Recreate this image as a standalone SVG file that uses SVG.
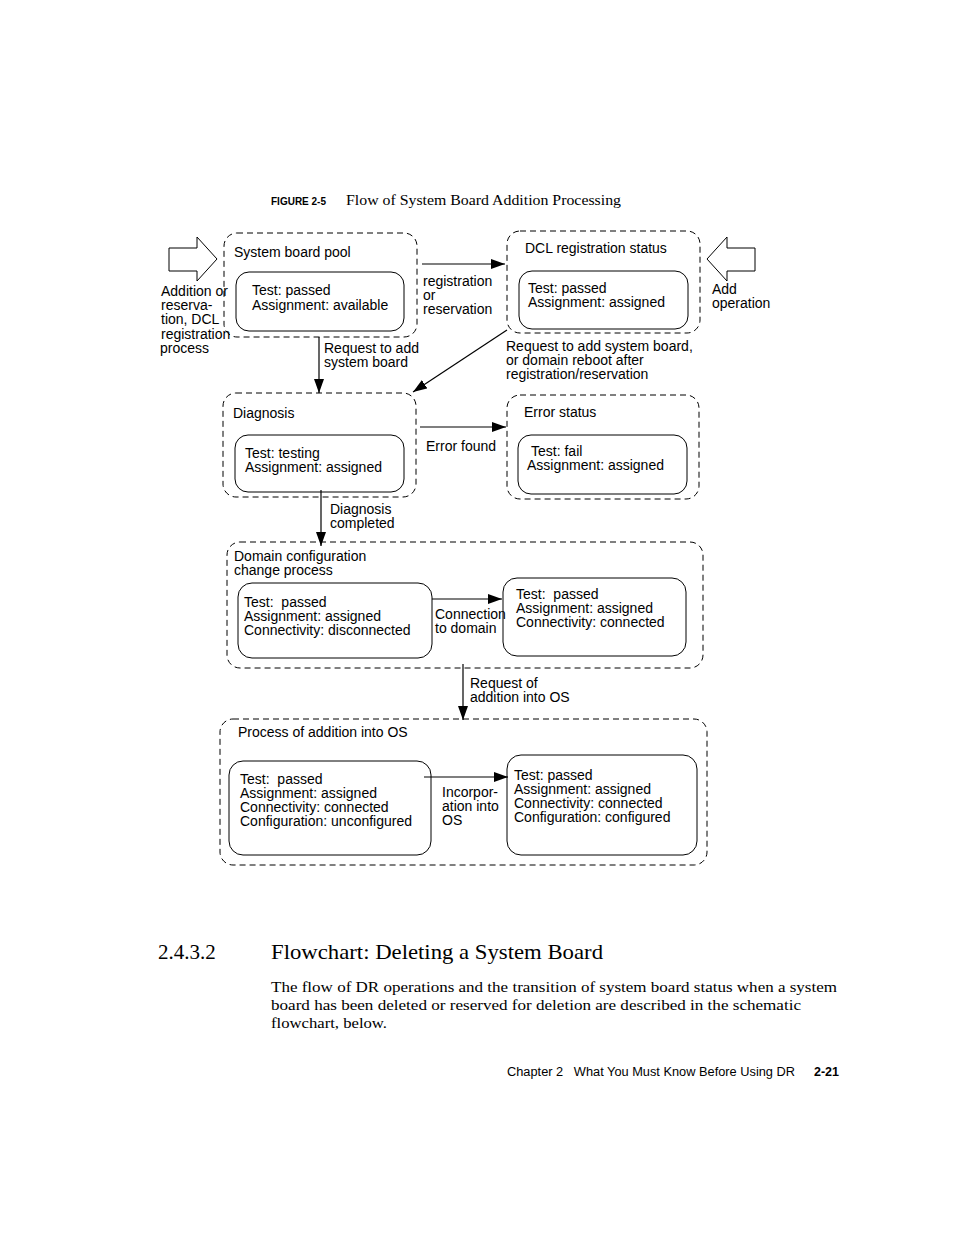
<svg xmlns="http://www.w3.org/2000/svg" width="954" height="1235" viewBox="0 0 954 1235">
<style>
.t{font-family:"Liberation Sans",Arial,sans-serif;font-size:14px;fill:#000}
.s{font-family:"Liberation Serif","Times New Roman",serif;fill:#000}
.outer{fill:none;stroke:#000;stroke-width:1;stroke-dasharray:6 4}
.inner{fill:#fff;stroke:#000;stroke-width:1}
.c{fill:none;stroke:#000;stroke-width:1.2}
.hollow{fill:#fff;stroke:#000;stroke-width:1}
</style>
<defs>
<marker id="ah" viewBox="0 0 14 10" refX="14" refY="5" markerWidth="14" markerHeight="10" markerUnits="userSpaceOnUse" orient="auto">
<path d="M0,0 L14,5 L0,10 Z" fill="#000"/>
</marker>
</defs>
<rect width="954" height="1235" fill="#fff"/>

<text x="271" y="205" font-family="Liberation Sans,Arial,sans-serif" font-size="10" font-weight="bold">FIGURE 2-5</text>
<text class="s" x="346" y="205" font-size="14" textLength="275" lengthAdjust="spacingAndGlyphs">Flow of System Board Addition Processing</text>

<g id="pool">
<rect class="outer" x="224" y="233" width="193" height="104" rx="13"/>
<text class="t" x="234" y="257">System board pool</text>
<rect class="inner" x="236" y="272" width="168" height="59" rx="13"/>
<text class="t" x="252" y="295">Test: passed</text>
<text class="t" x="252" y="310">Assignment: available</text>
</g>

<g id="dcl">
<rect class="outer" x="507" y="231" width="193" height="102" rx="13"/>
<text class="t" x="525" y="253">DCL registration status</text>
<rect class="inner" x="519" y="271" width="169" height="58" rx="13"/>
<text class="t" x="528" y="293">Test: passed</text>
<text class="t" x="528" y="307">Assignment: assigned</text>
</g>

<g id="diagnosis">
<rect class="outer" x="223" y="393" width="193" height="104" rx="13"/>
<text class="t" x="233" y="418">Diagnosis</text>
<rect class="inner" x="235" y="435" width="169" height="57" rx="13"/>
<text class="t" x="245" y="458">Test: testing</text>
<text class="t" x="245" y="472">Assignment: assigned</text>
</g>

<g id="error">
<rect class="outer" x="507" y="395" width="192" height="104" rx="13"/>
<text class="t" x="524" y="417">Error status</text>
<rect class="inner" x="518" y="435" width="169" height="59" rx="13"/>
<text class="t" x="531" y="456">Test: fail</text>
<text class="t" x="527" y="470">Assignment: assigned</text>
</g>

<g id="domain">
<rect class="outer" x="227" y="542" width="476" height="126" rx="13"/>
<text class="t" x="234" y="561">Domain configuration</text>
<text class="t" x="234" y="575">change process</text>
<rect class="inner" x="238" y="583" width="194" height="75" rx="14"/>
<text class="t" x="244" y="607" xml:space="preserve">Test:  passed</text>
<text class="t" x="244" y="621">Assignment: assigned</text>
<text class="t" x="244" y="635">Connectivity: disconnected</text>
<rect class="inner" x="503" y="578" width="183" height="78" rx="14"/>
<text class="t" x="516" y="599" xml:space="preserve">Test:  passed</text>
<text class="t" x="516" y="613">Assignment: assigned</text>
<text class="t" x="516" y="627">Connectivity: connected</text>
</g>

<g id="osproc">
<rect class="outer" x="220" y="719" width="487" height="146" rx="13"/>
<text class="t" x="238" y="737">Process of addition into OS</text>
<rect class="inner" x="229" y="761" width="202" height="94" rx="14"/>
<text class="t" x="240" y="784" xml:space="preserve">Test:  passed</text>
<text class="t" x="240" y="798">Assignment: assigned</text>
<text class="t" x="240" y="812">Connectivity: connected</text>
<text class="t" x="240" y="826">Configuration: unconfigured</text>
<rect class="inner" x="507" y="755" width="190" height="100" rx="14"/>
<text class="t" x="514" y="780">Test: passed</text>
<text class="t" x="514" y="794">Assignment: assigned</text>
<text class="t" x="514" y="808">Connectivity: connected</text>
<text class="t" x="514" y="822">Configuration: configured</text>
</g>

<g id="connectors">
<path class="hollow" d="M169,248 L197,248 L197,237 L217,259 L197,281 L197,271 L169,271 Z"/>
<path class="hollow" d="M755,248 L727,248 L727,237 L707,259 L727,281 L727,271 L755,271 Z"/>
<line class="c" x1="422" y1="264" x2="505" y2="264" marker-end="url(#ah)"/>
<line class="c" x1="319" y1="337" x2="319" y2="393" marker-end="url(#ah)"/>
<line class="c" x1="507" y1="330" x2="413" y2="392" marker-end="url(#ah)"/>
<line class="c" x1="420" y1="427" x2="506" y2="427" marker-end="url(#ah)"/>
<line class="c" x1="321" y1="490" x2="321" y2="546" marker-end="url(#ah)"/>
<line class="c" x1="432" y1="599" x2="502" y2="599" marker-end="url(#ah)"/>
<line class="c" x1="463" y1="664" x2="463" y2="720" marker-end="url(#ah)"/>
<line class="c" x1="424" y1="777" x2="508" y2="777" marker-end="url(#ah)"/>
</g>

<g id="labels">
<text class="t" x="161" y="296">Addition or</text>
<text class="t" x="161" y="310">reserva-</text>
<text class="t" x="161" y="324">tion, DCL</text>
<text class="t" x="161" y="339">registration</text>
<text class="t" x="160" y="353">process</text>
<text class="t" x="423" y="286">registration</text>
<text class="t" x="423" y="300">or</text>
<text class="t" x="423" y="314">reservation</text>
<text class="t" x="712" y="294">Add</text>
<text class="t" x="712" y="308">operation</text>
<text class="t" x="324" y="353">Request to add</text>
<text class="t" x="324" y="367">system board</text>
<text class="t" x="506" y="351">Request to add system board,</text>
<text class="t" x="506" y="365">or domain reboot after</text>
<text class="t" x="506" y="379">registration/reservation</text>
<text class="t" x="426" y="451">Error found</text>
<text class="t" x="330" y="514">Diagnosis</text>
<text class="t" x="330" y="528">completed</text>
<text class="t" x="435" y="619">Connection</text>
<text class="t" x="435" y="633">to domain</text>
<text class="t" x="470" y="688">Request of</text>
<text class="t" x="470" y="702">addition into OS</text>
<text class="t" x="442" y="797">Incorpor-</text>
<text class="t" x="442" y="811">ation into</text>
<text class="t" x="442" y="825">OS</text>
</g>

<text class="s" x="158" y="959" font-size="21">2.4.3.2</text>
<text class="s" x="271" y="959" font-size="21" textLength="332" lengthAdjust="spacingAndGlyphs">Flowchart: Deleting a System Board</text>
<text class="s" x="271" y="992" font-size="15" textLength="566" lengthAdjust="spacingAndGlyphs">The flow of DR operations and the transition of system board status when a system</text>
<text class="s" x="271" y="1010" font-size="15" textLength="530" lengthAdjust="spacingAndGlyphs">board has been deleted or reserved for deletion are described in the schematic</text>
<text class="s" x="271" y="1028" font-size="15" textLength="116" lengthAdjust="spacingAndGlyphs">flowchart, below.</text>
<text x="507" y="1076" font-family="Liberation Sans,Arial,sans-serif" font-size="12.5" xml:space="preserve" textLength="288" lengthAdjust="spacingAndGlyphs">Chapter 2   What You Must Know Before Using DR</text>
<text x="814" y="1076" font-family="Liberation Sans,Arial,sans-serif" font-size="12.5" font-weight="bold">2-21</text>
</svg>
